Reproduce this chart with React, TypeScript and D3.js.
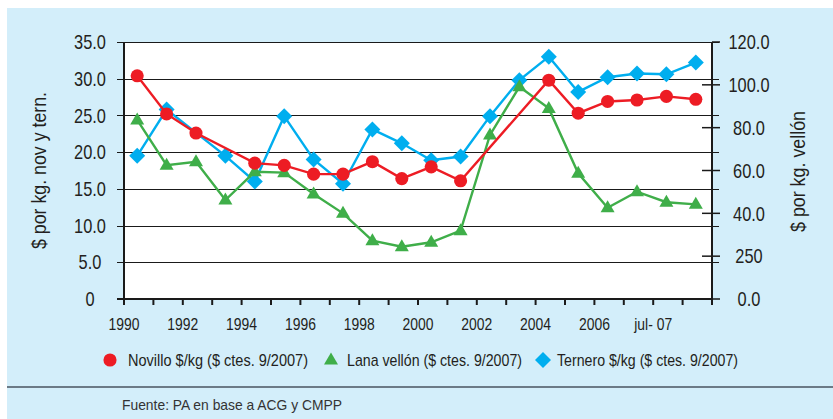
import { useEffect, useRef } from 'react';
import * as d3 from 'd3';

// values (one point per period)
const periods = d3.range(20);
const xTickLabels = ['1990', '1992', '1994', '1996', '1998', '2000', '2002', '2004', '2006', 'jul- 07'];
const leftTicks = [0, 5, 10, 15, 20, 25, 30, 35];
const rightTicks = [0, 20, 40, 60, 80, 100, 120];
const rightTickLabels = ['0.0', '250', '40.0', '60.0', '80.0', '100.0', '120.0'];

const novillo: (number | null)[] = [30.4, 25.2, 22.6, null, 18.5, 18.2, 17.0, 17.0, 18.7, 16.4, 18.0, 16.1, null, null, 29.8, 25.3, 26.9, 27.1, 27.6, 27.2];
const ternero: (number | null)[] = [19.5, 25.8, null, 19.5, 16.0, 24.9, 19.0, 15.7, 23.1, 21.2, 18.9, 19.4, 24.9, 29.8, 33.0, 28.2, 30.2, 30.7, 30.6, 32.2];
const lana: (number | null)[] = [83.6, 62.5, 64.1, 46.2, 59.4, 59.0, 49.0, 40.0, 27.2, 24.4, 26.5, 31.9, 76.6, 99.1, 89.0, 58.7, 42.6, 50.1, 45.2, 44.2];

const RED = '#ED1C24';
const GREEN = '#3FAE49';
const BLUE = '#00AEEF';
const PANEL = '#D3EEFA';
const FONT = '"Liberation Sans", Arial, sans-serif';
const NARROW = 0.82; // condensed look of the original typeface

const WIDTH = 833;
const HEIGHT = 419;

const App = () => {
  const svgRef = useRef<SVGSVGElement>(null);

  useEffect(() => {
    if (!svgRef.current) return;
    const svg = d3.select(svgRef.current);
    svg.selectAll('*').remove();

    const plot = { left: 124, right: 712, top: 42, bottom: 299 };

    const x = d3.scaleBand<number>()
      .domain(periods)
      .range([plot.left, plot.right]);
    const xc = (i: number) => (x(i) || 0) + x.bandwidth() / 2 - 1.5;
    const yL = d3.scaleLinear().domain([0, 35]).range([plot.bottom, plot.top]);
    const yR = d3.scaleLinear().domain([0, 120]).range([plot.bottom, plot.top]);

    const narrowAt = (px: number, py: number) => `translate(${px},${py}) scale(${NARROW},1)`;

    // background panel
    svg.append('rect')
      .attr('x', 7).attr('y', 8)
      .attr('width', WIDTH - 7).attr('height', HEIGHT - 8)
      .attr('fill', PANEL);

    svg.append('rect')
      .attr('x', plot.left).attr('y', plot.top)
      .attr('width', plot.right - plot.left).attr('height', plot.bottom - plot.top)
      .attr('fill', '#fff');

    // gridlines (left scale)
    svg.append('g')
      .selectAll('line')
      .data(leftTicks.filter(d => d > 0))
      .join('line')
      .attr('x1', 117).attr('x2', 719)
      .attr('y1', d => Math.round(yL(d)) + 0.5)
      .attr('y2', d => Math.round(yL(d)) + 0.5)
      .attr('stroke', '#1a1a1a')
      .attr('stroke-width', 1);

    // left tick labels
    svg.append('g')
      .selectAll('text')
      .data(leftTicks)
      .join('text')
      .attr('transform', d => narrowAt(90, yL(d)))
      .attr('dy', '0.36em')
      .attr('text-anchor', 'middle')
      .style('font-family', FONT)
      .style('font-size', '20px')
      .style('fill', '#231f20')
      .text(d => (d === 0 ? '0' : d.toFixed(1)));

    // right ticks (crossing) and labels
    svg.append('g')
      .selectAll('line')
      .data(rightTicks)
      .join('line')
      .attr('x1', d => (d === 0 || d === 120 ? plot.right : 702))
      .attr('x2', 720)
      .attr('y1', d => yR(d))
      .attr('y2', d => yR(d))
      .attr('stroke', '#1a1a1a')
      .attr('stroke-width', 1.5);

    svg.append('g')
      .selectAll('text')
      .data(rightTicks)
      .join('text')
      .attr('transform', d => narrowAt(749, yR(d)))
      .attr('dy', '0.36em')
      .attr('text-anchor', 'middle')
      .style('font-family', FONT)
      .style('font-size', '20px')
      .style('fill', '#231f20')
      .text((_, i) => rightTickLabels[i]);

    // x ticks
    svg.append('g')
      .selectAll('line')
      .data(d3.range(periods.length + 1))
      .join('line')
      .attr('x1', i => plot.left + i * x.step())
      .attr('x2', i => plot.left + i * x.step())
      .attr('y1', plot.bottom)
      .attr('y2', plot.bottom + 6)
      .attr('stroke', '#1a1a1a')
      .attr('stroke-width', 2);

    svg.append('g')
      .selectAll('text')
      .data(xTickLabels)
      .join('text')
      .attr('transform', (_, i) => narrowAt(plot.left + i * 2 * x.step(), 330))
      .attr('text-anchor', 'middle')
      .style('font-family', FONT)
      .style('font-size', '17px')
      .style('fill', '#231f20')
      .text(d => d);

    // axis lines
    const axes = svg.append('g')
      .attr('stroke', '#1a1a1a')
      .attr('stroke-width', 2);
    axes.append('line')
      .attr('x1', plot.left).attr('x2', plot.left)
      .attr('y1', plot.top).attr('y2', plot.bottom + 1);
    axes.append('line')
      .attr('x1', plot.right).attr('x2', plot.right)
      .attr('y1', plot.top).attr('y2', plot.bottom + 1);
    axes.append('line')
      .attr('x1', 117).attr('x2', plot.right + 1)
      .attr('y1', plot.bottom).attr('y2', plot.bottom);

    // axis titles
    svg.append('text')
      .attr('transform', `translate(46,${(plot.top + plot.bottom) / 2}) rotate(-90)`)
      .attr('text-anchor', 'middle')
      .attr('textLength', 157)
      .attr('lengthAdjust', 'spacingAndGlyphs')
      .style('font-family', FONT)
      .style('font-size', '20px')
      .style('fill', '#231f20')
      .text('$ por kg. nov y tern.');

    svg.append('text')
      .attr('transform', `translate(805,${(plot.top + plot.bottom) / 2 + 1}) rotate(-90)`)
      .attr('text-anchor', 'middle')
      .attr('textLength', 121)
      .attr('lengthAdjust', 'spacingAndGlyphs')
      .style('font-family', FONT)
      .style('font-size', '20px')
      .style('fill', '#231f20')
      .text('$ por kg. vellón');

    // series
    type Marker = 'circle' | 'triangle' | 'diamond';
    type Series = {
      values: (number | null)[];
      scale: d3.ScaleLinear<number, number>;
      color: string;
      marker: Marker;
    };
    const series: Series[] = [
      { values: ternero, scale: yL, color: BLUE, marker: 'diamond' },
      { values: lana, scale: yR, color: GREEN, marker: 'triangle' },
      { values: novillo, scale: yL, color: RED, marker: 'circle' },
    ];

    const markerPath = (m: Marker) => {
      if (m === 'circle') return d3.symbol(d3.symbolCircle, 135)();
      const p = d3.path();
      if (m === 'triangle') {
        p.moveTo(0, -7.5);
        p.lineTo(7, 4.5);
        p.lineTo(-7, 4.5);
      } else {
        p.moveTo(0, -8);
        p.lineTo(8, 0);
        p.lineTo(0, 8);
        p.lineTo(-8, 0);
      }
      p.closePath();
      return p.toString();
    };

    series.forEach(s => {
      const pts = s.values
        .map((v, i) => ({ i, v }))
        .filter((p): p is { i: number; v: number } => p.v !== null);
      const line = d3.line<{ i: number; v: number }>()
        .x(p => xc(p.i))
        .y(p => s.scale(p.v));
      svg.append('path')
        .datum(pts)
        .attr('d', line)
        .attr('fill', 'none')
        .attr('stroke', s.color)
        .attr('stroke-width', 2.4);
      svg.append('g')
        .selectAll('path')
        .data(pts)
        .join('path')
        .attr('d', markerPath(s.marker))
        .attr('transform', p => `translate(${xc(p.i)},${s.scale(p.v)})`)
        .attr('fill', s.color);
    });

    // legend
    const legend = [
      { label: 'Novillo $/kg ($ ctes. 9/2007)', color: RED, marker: 'circle' as Marker, x: 110, tx: 128, w: 180 },
      { label: 'Lana vellón ($ ctes. 9/2007)', color: GREEN, marker: 'triangle' as Marker, x: 331, tx: 347, w: 175 },
      { label: 'Ternero $/kg ($ ctes. 9/2007)', color: BLUE, marker: 'diamond' as Marker, x: 543, tx: 557, w: 181 },
    ];
    const lg = svg.append('g').selectAll('g').data(legend).join('g');
    lg.append('path')
      .attr('d', d => markerPath(d.marker))
      .attr('transform', d => `translate(${d.x},360)`)
      .attr('fill', d => d.color);
    lg.append('text')
      .attr('x', d => d.tx)
      .attr('y', 366)
      .attr('textLength', d => d.w)
      .attr('lengthAdjust', 'spacingAndGlyphs')
      .style('font-family', FONT)
      .style('font-size', '17px')
      .style('fill', '#231f20')
      .text(d => d.label);

    // separator + source
    svg.append('line')
      .attr('x1', 7).attr('x2', WIDTH)
      .attr('y1', 387).attr('y2', 387)
      .attr('stroke', '#6B7A86')
      .attr('stroke-width', 2);

    svg.append('text')
      .attr('x', 122)
      .attr('y', 410)
      .attr('textLength', 220)
      .attr('lengthAdjust', 'spacingAndGlyphs')
      .style('font-family', FONT)
      .style('font-size', '15px')
      .style('fill', '#333')
      .text('Fuente: PA en base a ACG y CMPP');
  }, []);

  return (
    <svg
      ref={svgRef}
      width={WIDTH}
      height={HEIGHT}
      style={{ position: 'absolute', left: 0, top: 0, background: '#fff' }}
    />
  );
};

export default App;
